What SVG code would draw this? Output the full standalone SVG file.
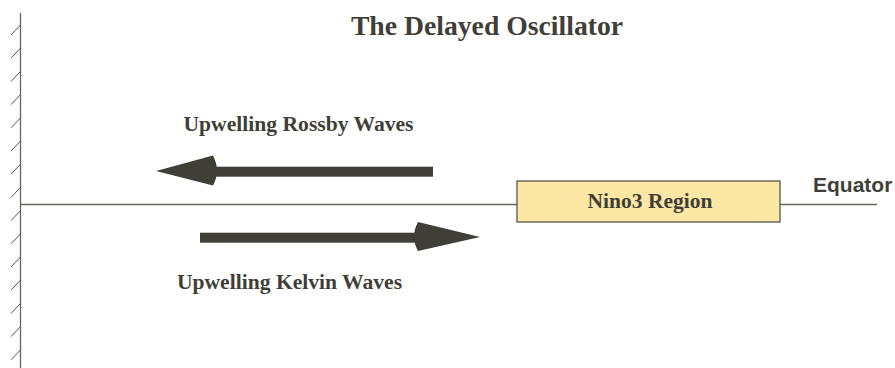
<svg xmlns="http://www.w3.org/2000/svg" width="895" height="368" viewBox="0 0 895 368">
<style>
.serif{font-family:"Liberation Serif","Times New Roman",serif;font-weight:bold;fill:#3f3f38}
.sans{font-family:"Liberation Sans",Arial,sans-serif;font-weight:bold;fill:#3f3f38}
.line{stroke:#666660;stroke-width:1.3;fill:none}
.tick{stroke:#555550;stroke-width:1;fill:none}
.arrow{fill:#3f3f38;stroke:none}
</style>
<defs>
<path id="tk" d="M11,10 L20.5,0" class="tick"/>
</defs>
<rect width="895" height="368" fill="#ffffff"/>
<g id="wall">
<line x1="20.5" y1="13" x2="20.5" y2="368" class="line"/>
<use href="#tk" y="25"/><use href="#tk" y="48.2"/><use href="#tk" y="71.4"/><use href="#tk" y="94.6"/><use href="#tk" y="117.8"/><use href="#tk" y="141"/><use href="#tk" y="164.2"/><use href="#tk" y="187.4"/><use href="#tk" y="210.6"/><use href="#tk" y="233.8"/><use href="#tk" y="257"/><use href="#tk" y="280.2"/><use href="#tk" y="303.4"/><use href="#tk" y="326.6"/><use href="#tk" y="349.8"/>
</g>
<g id="equator">
<line x1="20.5" y1="204.5" x2="877" y2="204.5" class="line"/>
<text x="813" y="192" font-size="21" class="sans">Equator</text>
</g>
<g id="title">
<text x="487" y="35" font-size="27.7" text-anchor="middle" class="serif">The Delayed Oscillator</text>
</g>
<g id="nino3">
<rect x="517" y="181" width="263" height="41" fill="#fce7a5" stroke="#55554f" stroke-width="1.3"/>
<text x="650" y="207.5" font-size="21.5" text-anchor="middle" class="serif">Nino3 Region</text>
</g>
<g id="connectors">
<g id="rossby-arrow">
<rect x="208" y="166.7" width="225" height="10" class="arrow"/>
<path d="M156,171 L213,155.5 Q221,171 213,185.5 Z" class="arrow"/>
</g>
<g id="kelvin-arrow">
<rect x="200" y="232.7" width="222" height="10" class="arrow"/>
<path d="M480,237 L418,222 Q410,237 418,251 Z" class="arrow"/>
</g>
</g>
<g id="rossby-label">
<text x="298.5" y="130.5" font-size="21.6" text-anchor="middle" class="serif">Upwelling Rossby Waves</text>
</g>
<g id="kelvin-label">
<text x="289.5" y="289" font-size="21.6" text-anchor="middle" class="serif">Upwelling Kelvin Waves</text>
</g>
</svg>
